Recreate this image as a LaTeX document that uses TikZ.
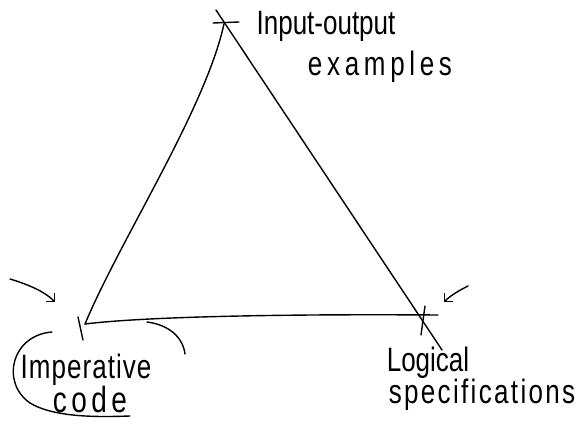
\documentclass[tikz,border=0pt]{standalone}
\usepackage{fontspec}
\setmainfont{Liberation Sans}
\usetikzlibrary{arrows.meta}
\newcommand{\tall}[1]{\scalebox{1}[1.3]{#1}}
\tikzset{
  pen/.style={line width=1.4pt, line cap=round, line join=round, black},
  hand/.style={inner sep=0pt, font=\fontsize{26}{28}\selectfont},
  barb/.style={pen, -{Straight Barb[length=6pt,width=12pt,line width=1.4pt]}}
}
\begin{document}
\begin{tikzpicture}[x=1pt,y=-1pt]
\useasboundingbox (0,0) rectangle (583,423);
% vertices
\coordinate (top) at (224,24);
\coordinate (topstart) at (216,10);
\coordinate (bl) at (85,324);
\coordinate (br) at (438,315);
\coordinate (rend) at (442,350);
% edges
\draw[pen] (topstart) -- (rend);
\draw[pen] (top) .. controls (205,110) and (120,240) .. (bl);
\draw[pen] (bl) .. controls (150,316) and (300,314) .. (br);
% ticks
\coordinate (t1a) at (213,23); \coordinate (t1b) at (239,22);
\draw[pen] (t1a) -- (t1b);
\coordinate (t2a) at (78,317); \coordinate (t2b) at (83,340);
\draw[pen] (t2a) -- (t2b);
\coordinate (t3a) at (425,306); \coordinate (t3b) at (421,335);
\draw[pen] (t3a) -- (t3b);
% arrows
\coordinate (a1s) at (10,279); \coordinate (a1e) at (55,302);
\draw[barb] (a1s) .. controls (30,285) and (45,292) .. (a1e);
\coordinate (a2s) at (468,286); \coordinate (a2e) at (444,302);
\draw[barb] (a2s) .. controls (458,291) and (450,296) .. (a2e);
% loop around Imperative code
\coordinate (l1) at (147,322); \coordinate (l2) at (185,354);
\draw[pen] (l1) .. controls (170,325) and (183,338) .. (l2);
\coordinate (l3) at (52,332); \coordinate (l4) at (130,416);
\draw[pen] (l3) .. controls (12,335) and (0,382) .. (30,403) .. controls (55,418) and (100,417) .. (l4);
% labels
\node[hand] (io) at (326,26) {\tall{Input-output}};
\node[hand] (ex) at (380,67) {\tall{\addfontfeature{LetterSpace=18}examples}};
\node[hand] (imp) at (86,370) {\tall{\addfontfeature{LetterSpace=4}Imperative}};
\node[hand] (code) at (90,399) {\tall{\fontsize{28}{30}\selectfont\addfontfeature{LetterSpace=16}code}};
\node[hand] (log) at (428,363) {\tall{Logical}};
\node[hand] (spec) at (482,395) {\tall{\addfontfeature{LetterSpace=9}specifications}};
\end{tikzpicture}
\end{document}
